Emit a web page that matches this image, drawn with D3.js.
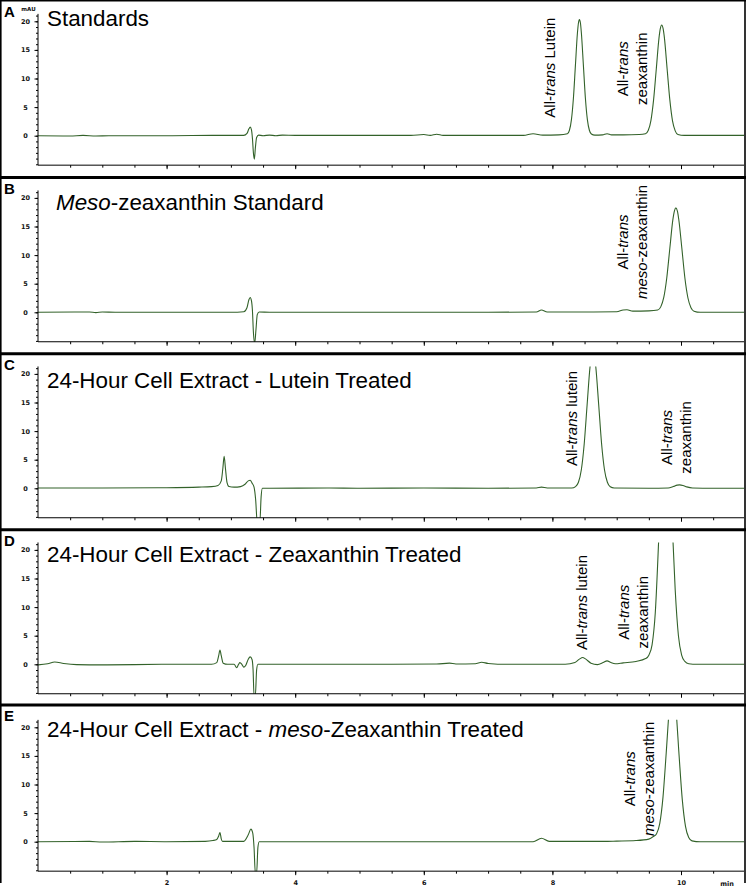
<!DOCTYPE html>
<html><head><meta charset="utf-8">
<script src="https://cdn.jsdelivr.net/npm/d3@7"></script>
<style>html,body{margin:0;padding:0;background:#fff;} svg{display:block;}</style>
</head><body><svg id="c" width="746" height="889"></svg>
<script>
// ---------------- DATA ----------------
const panelLetters = ["A", "B", "C", "D", "E"];
const panelTitles = [
  [{t: "Standards"}],
  [{t: "Meso", i: true}, {t: "-zeaxanthin Standard"}],
  [{t: "24-Hour Cell Extract - Lutein Treated"}],
  [{t: "24-Hour Cell Extract - Zeaxanthin Treated"}],
  [{t: "24-Hour Cell Extract - "}, {t: "meso", i: true}, {t: "-Zeaxanthin Treated"}]
];
const yTickValues = [0, 5, 10, 15, 20];
const xTickValues = [2, 4, 6, 8, 10];
const xUnitLabel = "min";
const yUnitLabel = "mAU";

// [retention time (min), absorbance (mAU)]
const traceA = [[0,0],[0.5,-0.05],[0.7,0.05],[0.9,-0.05],[1.1,0],[2.0,0],[2.8,0.05],[3.2,0.05],[3.25,0.4],[3.28,1.2],[3.30,1.5],[3.32,1.0],[3.335,-0.5],[3.35,-3.0],[3.365,-4.1],[3.38,-2.2],[3.40,-0.3],[3.43,0.1],[3.5,0],[3.6,0.1],[3.7,0],[3.8,0.1],[4.0,0.05],[5.0,0.05],[5.8,0.05],[6.0,0.2],[6.1,0.05],[6.2,0.25],[6.3,0.05],[7.0,0.05],[7.55,0.05],[7.7,0.35],[7.85,0.1],[8.1,0.15],[8.234,0.35],[8.265,0.95],[8.296,2.8],[8.327,6.6],[8.358,12.3],[8.389,17.9],[8.405,19.7],[8.42,20.3],[8.436,19.7],[8.451,17.9],[8.482,12.3],[8.513,6.6],[8.544,2.8],[8.575,0.95],[8.606,0.3],[8.66,0.1],[8.78,0.15],[8.85,0.35],[8.92,0.15],[9.1,0.15],[9.35,0.2],[9.448,0.35],[9.49,0.9],[9.532,2.65],[9.574,6.3],[9.616,11.7],[9.658,17.1],[9.679,18.75],[9.70,19.35],[9.721,18.75],[9.742,17.1],[9.784,11.7],[9.826,6.3],[9.868,2.6],[9.91,0.85],[9.952,0.2],[10.05,0.05],[11,0.05]];
const traceB = [[0,0],[0.8,0.05],[0.9,-0.05],[1.0,0.05],[1.2,0],[3.0,0],[3.2,0.1],[3.25,0.8],[3.28,2.2],[3.30,2.6],[3.32,2.0],[3.335,0.3],[3.35,-3.5],[3.37,-5.4],[3.39,-3.0],[3.41,-0.4],[3.44,0.05],[3.6,0],[5,0],[7.0,0],[7.75,0.05],[7.83,0.4],[7.92,0.05],[8.5,0.05],[9.0,0.1],[9.1,0.4],[9.16,0.45],[9.25,0.2],[9.5,0.25],[9.638,0.4],[9.685,0.95],[9.732,2.6],[9.779,6.05],[9.826,11.15],[9.873,16.15],[9.897,17.7],[9.92,18.25],[9.944,17.7],[9.967,16.1],[10.014,11.1],[10.061,5.95],[10.108,2.5],[10.155,0.8],[10.202,0.2],[10.3,0],[11,0]];
const traceC = [[0,0.05],[1.0,0.05],[2.0,0.1],[2.5,0.2],[2.7,0.3],[2.8,0.5],[2.85,1.3],[2.875,3.5],[2.895,5.6],[2.915,3.5],[2.94,1.0],[2.97,0.3],[3.05,0.2],[3.15,0.3],[3.22,0.7],[3.27,1.3],[3.30,1.4],[3.33,0.9],[3.36,0.2],[3.385,-2],[3.41,-6],[3.45,-6],[3.47,-1.5],[3.49,0],[3.6,0],[4.5,0.05],[5.0,0],[6.0,0.05],[7.0,0],[7.75,0.05],[7.83,0.2],[7.92,0.05],[8.3,0.05],[8.36,0.3],[8.405,1.05],[8.45,3.25],[8.495,7.8],[8.54,14.6],[8.585,21.2],[8.608,23.25],[8.63,24],[8.653,23.25],[8.675,21.2],[8.72,14.6],[8.765,7.8],[8.81,3.25],[8.855,1.05],[8.9,0.27],[8.96,0.05],[9.5,0],[9.8,0.05],[9.88,0.3],[9.94,0.55],[9.98,0.6],[10.03,0.5],[10.09,0.25],[10.18,0.05],[10.5,0],[11,0]];
const traceD = [[0,-0.1],[0.15,0.1],[0.26,0.4],[0.4,0.15],[0.6,-0.05],[1.0,-0.1],[1.5,-0.05],[2.0,0],[2.7,0],[2.78,0.3],[2.81,1.5],[2.83,2.5],[2.85,1.5],[2.88,0.2],[2.95,0],[3.05,0],[3.09,-0.6],[3.12,0],[3.14,0.3],[3.17,0],[3.20,-0.5],[3.23,-0.2],[3.27,0.9],[3.30,1.3],[3.33,0.8],[3.345,-1],[3.36,-5.5],[3.38,-5.5],[3.40,-1],[3.42,0],[3.6,0],[5.5,0],[6.2,0.05],[6.4,0.2],[6.5,0.05],[6.8,0.1],[6.9,0.35],[7.0,0.15],[7.3,0],[8.2,0],[8.35,0.3],[8.42,0.9],[8.47,1.2],[8.52,0.9],[8.6,0.2],[8.7,-0.05],[8.79,0.3],[8.85,0.6],[8.91,0.3],[8.98,0.1],[9.1,0.25],[9.3,0.5],[9.45,1.0],[9.5,1.6],[9.55,3.4],[9.6,9],[9.65,21],[9.70,36],[9.76,44],[9.81,38.4],[9.86,25.6],[9.91,13],[9.96,5],[10.01,1.6],[10.06,0.5],[10.12,0.1],[10.25,0],[11,0]];
const traceE = [[0,0],[0.8,0.05],[1.0,-0.05],[1.5,0.05],[2.0,0],[2.6,0.05],[2.72,0.2],[2.78,0.4],[2.81,1.0],[2.83,1.6],[2.85,0.5],[2.87,0.05],[3.2,0.05],[3.27,1.2],[3.31,2.2],[3.34,1.5],[3.36,-1],[3.38,-5.5],[3.40,-5.5],[3.42,-1],[3.44,0],[3.6,0],[7.7,0],[7.83,0.6],[7.95,0.05],[8.8,0.05],[9.0,0.1],[9.3,0.2],[9.5,0.45],[9.57,0.9],[9.62,1.4],[9.67,3.2],[9.72,7.8],[9.77,15.5],[9.82,23.6],[9.845,26.1],[9.87,27],[9.895,26.0],[9.92,23.4],[9.97,15.1],[10.02,7.35],[10.07,2.68],[10.12,0.73],[10.17,0.15],[10.3,0],[11,0]];

// peak annotations: anchor in data units (t = baseline time of first line, v = value at text centre)
const peakLabels = [
  {panel: 0, t: 8.04, v: 11.9, lines: [[{t: "All-"}, {t: "trans", i: true}, {t: " Lutein"}]]},
  {panel: 0, t: 9.18, v: 11.7, lines: [[{t: "All-"}, {t: "trans", i: true}], [{t: "zeaxanthin"}]]},
  {panel: 1, t: 9.18, v: 12.3, lines: [[{t: "All-"}, {t: "trans", i: true}], [{t: "meso", i: true}, {t: "-zeaxanthin"}]]},
  {panel: 2, t: 8.38, v: 12.2, lines: [[{t: "All-"}, {t: "trans", i: true}, {t: " lutein"}]]},
  {panel: 2, t: 9.86, v: 8.9, lines: [[{t: "All-"}, {t: "trans", i: true}], [{t: "zeaxanthin"}]]},
  {panel: 3, t: 8.54, v: 10.8, lines: [[{t: "All-"}, {t: "trans", i: true}, {t: " lutein"}]]},
  {panel: 3, t: 9.19, v: 9.1, lines: [[{t: "All-"}, {t: "trans", i: true}], [{t: "zeaxanthin"}]]},
  {panel: 4, t: 9.28, v: 11.0, lines: [[{t: "All-"}, {t: "trans", i: true}], [{t: "meso", i: true}, {t: "-zeaxanthin"}]]}
];
const traces = [traceA, traceB, traceC, traceD, traceE];

// ---------------- LAYOUT ----------------
const W = 746, H = 889;
const xLeft = 38, xRight = 744, pxPerMin = 64.3;
const panelTop = [0.8, 177.5, 353.8, 529.7, 705];
const zeroY = [135.7, 312.3, 488.3, 664.3, 841.7];
const titleY = [25.5, 210, 388, 562, 737];
const titleX = [47, 56, 47, 47, 47];
const pxPerUnit = 5.72;
const yMin = -5.15, yMax = 21.3;
const lineColor = "#33622a";
const sans = "'Liberation Sans', Arial, sans-serif";
const tickFont = "'DejaVu Sans', Verdana, sans-serif";

const svg = d3.select("#c");
svg.append("rect").attr("width", W).attr("height", H).attr("fill", "#fff");

const x = d3.scaleLinear().domain([0, (xRight - xLeft) / pxPerMin]).range([xLeft, xRight]);

function addSpans(textSel, segs) {
  segs.forEach(s => {
    textSel.append("tspan").text(s.t).attr("font-style", s.i ? "italic" : "normal");
  });
}

panelLetters.forEach((letter, i) => {
  const y = d3.scaleLinear().domain([0, 20]).range([zeroY[i], zeroY[i] - 20 * pxPerUnit]);
  const g = svg.append("g");
  const yBottom = y(yMin), yTop = y(yMax);

  const cid = "clip" + i;
  svg.append("defs").append("clipPath").attr("id", cid)
    .append("rect").attr("x", xLeft).attr("y", yTop).attr("width", xRight - xLeft).attr("height", yBottom - yTop);

  const line = d3.line().x(d => x(d[0])).y(d => y(d[1])).curve(d3.curveMonotoneX);
  g.append("path").datum(traces[i]).attr("d", line)
    .attr("fill", "none").attr("stroke", lineColor).attr("stroke-width", 1.1)
    .attr("stroke-linejoin", "round").attr("clip-path", `url(#${cid})`);

  const yMinor = d3.range(-5, 22).filter(v => v >= yMin && v <= yMax);
  const yAxisMinor = d3.axisLeft(y).tickValues(yMinor).tickSize(2).tickSizeOuter(0).tickFormat("");
  const ga = g.append("g").attr("transform", `translate(${xLeft},0)`).call(yAxisMinor);
  ga.select(".domain").remove();
  const yAxisMajor = d3.axisLeft(y).tickValues(yTickValues).tickSize(3.5).tickSizeOuter(0).tickPadding(6);
  const gb = g.append("g").attr("transform", `translate(${xLeft},0)`).call(yAxisMajor);
  gb.select(".domain").remove();
  gb.selectAll("text").attr("font-family", tickFont).attr("font-weight", "bold").attr("font-size", 6.5)
    .attr("text-anchor", "middle").attr("x", 25.5 - xLeft).attr("fill", "#111");
  g.append("line").attr("x1", xLeft).attr("x2", xLeft).attr("y1", yTop).attr("y2", yBottom)
    .attr("stroke", "#000").attr("stroke-width", 1);

  const xMinor = d3.range(0.5, 10.75, 0.5);
  const xAxisMinor = d3.axisBottom(x).tickValues(xMinor).tickSize(2.5).tickSizeOuter(0).tickFormat("");
  const gx = g.append("g").attr("transform", `translate(0,${yBottom})`).call(xAxisMinor);
  gx.select(".domain").remove();
  const xAxisMajor = d3.axisBottom(x).tickValues(xTickValues).tickSize(4).tickSizeOuter(0)
    .tickFormat(i === 4 ? d3.format("d") : "");
  const gx2 = g.append("g").attr("transform", `translate(0,${yBottom})`).call(xAxisMajor);
  gx2.select(".domain").remove();
  gx2.selectAll("text").attr("font-family", tickFont).attr("font-weight", "bold").attr("font-size", 6.5)
    .attr("fill", "#111").attr("y", 9).attr("dy", "0.71em");
  g.append("line").attr("x1", xLeft).attr("x2", xRight).attr("y1", yBottom).attr("y2", yBottom)
    .attr("stroke", "#000").attr("stroke-width", 1);
  g.selectAll(".tick line").attr("stroke", "#000");

  if (i === 4) {
    g.append("text").attr("x", 727).attr("y", yBottom + 15).attr("text-anchor", "middle")
      .attr("font-family", tickFont).attr("font-weight", "bold").attr("font-size", 6.5).attr("fill", "#111")
      .text(xUnitLabel);
  }
  if (i === 0) {
    g.append("text").attr("x", 28.5).attr("y", 10.5).attr("text-anchor", "middle")
      .attr("font-family", tickFont).attr("font-weight", "bold").attr("font-size", 5.5).attr("fill", "#111")
      .text(yUnitLabel);
  }

  g.append("text").attr("x", 4).attr("y", panelTop[i] + 16).attr("font-family", sans)
    .attr("font-weight", "bold").attr("font-size", 15).attr("fill", "#000").text(letter);

  const tt = g.append("text").attr("x", titleX[i]).attr("y", titleY[i]).attr("font-family", sans)
    .attr("font-size", 22.4).attr("fill", "#000");
  addSpans(tt, panelTitles[i]);

  peakLabels.filter(p => p.panel === i).forEach(p => {
    p.lines.forEach((segs, k) => {
      const lt = g.append("text")
        .attr("transform", `translate(${x(p.t) + k * 19},${y(p.v)}) rotate(-90)`)
        .attr("text-anchor", "middle").attr("font-family", sans).attr("font-size", 15).attr("fill", "#000");
      addSpans(lt, segs);
    });
  });
});

const frame = svg.append("g").attr("stroke", "#000").attr("fill", "none");
frame.append("line").attr("x1", 0.8).attr("x2", 0.8).attr("y1", 0).attr("y2", 883).attr("stroke-width", 1.6);
frame.append("line").attr("x1", 745).attr("x2", 745).attr("y1", 0).attr("y2", 883).attr("stroke-width", 1.6);
frame.append("line").attr("x1", 0).attr("x2", 746).attr("y1", 0.8).attr("y2", 0.8).attr("stroke-width", 1.6);
panelTop.slice(1).forEach(t => {
  frame.append("line").attr("x1", 0).attr("x2", 746).attr("y1", t).attr("y2", t).attr("stroke-width", 3);
});
</script>
</body></html>
